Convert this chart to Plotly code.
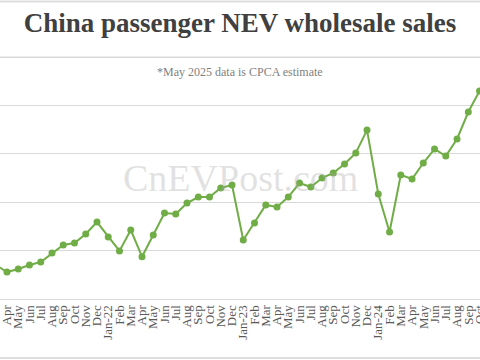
import plotly.graph_objects as go

# Month labels (Mar-21 .. Oct-24); Mar-21 sits partly off the left edge
months = ["Mar", "Apr", "May", "Jun", "Jul", "Aug", "Sep", "Oct", "Nov", "Dec",
          "Jan-22", "Feb", "Mar", "Apr", "May", "Jun", "Jul", "Aug", "Sep", "Oct", "Nov", "Dec",
          "Jan-23", "Feb", "Mar", "Apr", "May", "Jun", "Jul", "Aug", "Sep", "Oct", "Nov", "Dec",
          "Jan-24", "Feb", "Mar", "Apr", "May", "Jun", "Jul", "Aug", "Sep", "Oct"]

# Wholesale sales (units)
sales = [211000, 167000, 186000, 211000, 229000, 285000, 335000, 347000, 403000, 477000,
         384000, 298000, 428000, 262000, 397000, 533000, 527000, 595000, 632000, 632000, 688000, 707000,
         366000, 471000, 583000, 570000, 632000, 719000, 694000, 750000, 781000, 837000, 905000, 1047000,
         651000, 415000, 769000, 744000, 843000, 930000, 886000, 992000, 1159000, 1289000]

y_max = 1500000
y_step = 300000

x_idx = list(range(-1, len(months) - 1))  # Apr-21 = 0

# plot area: bottom at 299px, y_max at 57px
px_per_unit = 242 / y_max
pad = 6
y_top = y_max + pad / px_per_unit
top_margin = 57 - pad
plot_h = 299 - top_margin


def py(pix):
    return (299 - pix) / plot_h


fig = go.Figure()
fig.add_trace(go.Scatter(
    x=x_idx, y=sales, mode="lines+markers",
    line=dict(color="#70ad47", width=2),
    marker=dict(color="#70ad47", size=7),
    showlegend=False, hoverinfo="skip",
))

fig.update_layout(
    width=480, height=360,
    margin=dict(l=0, r=0, t=top_margin, b=61, autoexpand=False),
    paper_bgcolor="white", plot_bgcolor="white",
    title=dict(text="<b>China passenger NEV wholesale sales</b>",
               x=0.5, xanchor="center", xref="paper",
               y=1 - 23 / 360, yanchor="middle", yref="container",
               font=dict(family="Liberation Serif", size=27, color="#404040")),
    xaxis=dict(range=[-0.62, 42.04], tickmode="array", tickvals=x_idx, ticktext=months,
               tickangle=-90, tickfont=dict(family="Liberation Serif", size=13, color="#595959"),
               ticklabeloverflow="allow",
               showgrid=False, showline=True, linecolor="#d9d9d9", linewidth=1,
               ticks="", zeroline=False, fixedrange=True, automargin=False),
    yaxis=dict(range=[0, y_top], tickmode="linear", tick0=0, dtick=y_step, showticklabels=False,
               showgrid=True, gridcolor="#d9d9d9", gridwidth=1, zeroline=False,
               ticks="", fixedrange=True, automargin=False),
    annotations=[
        dict(text="*May 2025 data is CPCA estimate", x=0.5, y=py(72),
             xref="paper", yref="paper", showarrow=False, xanchor="center", yanchor="middle",
             font=dict(family="Liberation Serif", size=12, color="#7f7f7f")),
        dict(text="CnEVPost.com", x=0.5, y=py(178),
             xref="paper", yref="paper", showarrow=False, xanchor="center", yanchor="middle",
             font=dict(family="Liberation Serif", size=38, color="rgba(170,170,170,0.35)")),
    ],
    shapes=[
        dict(type="line", xref="paper", yref="y", x0=0, x1=1, y0=y_max, y1=y_max,
             layer="below", line=dict(color="#d9d9d9", width=1)),
        dict(type="line", xref="paper", yref="paper", x0=0, x1=1,
             y0=py(1.5), y1=py(1.5), line=dict(color="#dedede", width=2)),
        dict(type="line", xref="paper", yref="paper", x0=0, x1=1,
             y0=py(358), y1=py(358), line=dict(color="#dedede", width=2)),
    ],
)

fig.write_html("out.html", config={"displayModeBar": False},
               post_script="document.body.style.margin='0';")
